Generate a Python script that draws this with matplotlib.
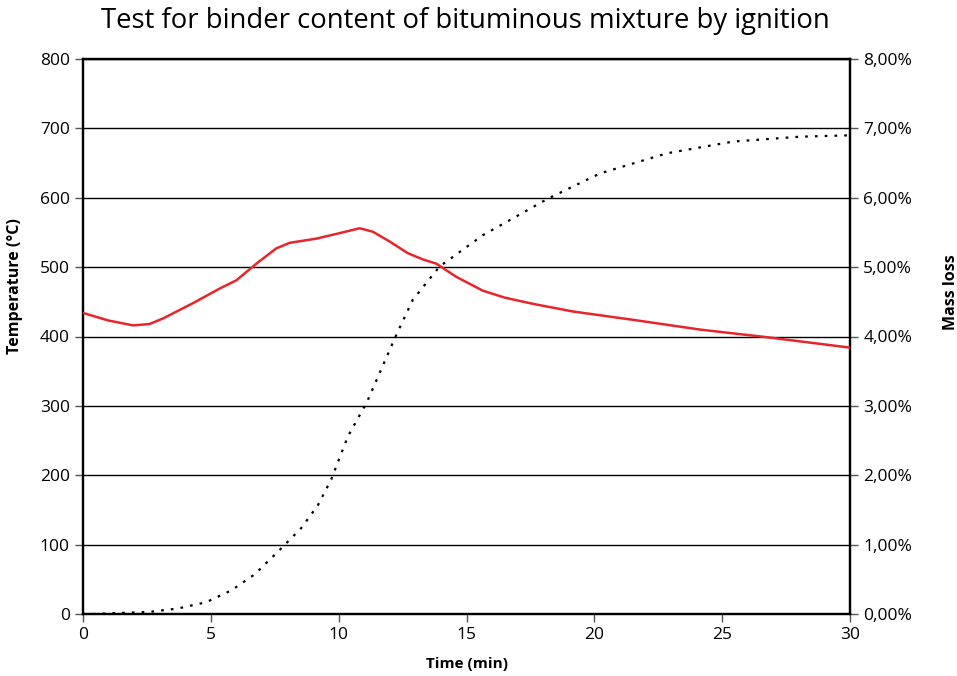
import matplotlib.pyplot as plt
from matplotlib.ticker import FuncFormatter

plt.rcParams['font.family'] = ['Open Sans', 'DejaVu Sans']

# temperature curve (deg C)
temp_time = [0, 1.0, 1.96, 2.6, 3.13, 4.3, 5.34, 6.0, 6.78, 7.56, 8.08, 9.12, 10.04,
             10.82, 11.34, 11.99, 12.71, 13.3, 13.82, 14.6, 15.64, 16.5, 17.61, 19.17,
             21.52, 24.13, 26.74, 30]
temperature = [434, 423, 416, 418, 426, 448, 469, 481, 505, 527, 535, 541, 549,
               556, 551, 537, 520, 511, 505, 486, 466, 456, 447, 436,
               424, 410, 399, 384]

# mass loss curve (%)
mass_time = [0, 0.39, 2.6, 3.72, 4.82, 5.8, 6.71, 7.82, 8.54, 9.19, 9.71, 10.36,
             11.1, 12.25, 12.9, 13.95, 15.64, 18.2, 20.22, 22.83, 25.43, 28.04, 30]
mass_loss = [0.0, 0.0, 0.03, 0.08, 0.17, 0.34, 0.57, 0.97, 1.24, 1.57, 1.94, 2.56,
             3.05, 4.02, 4.53, 5.01, 5.46, 5.99, 6.35, 6.64, 6.81, 6.88, 6.90]

fig = plt.figure(figsize=(9.57, 6.76), dpi=100)
ax = fig.add_axes([83 / 957, 62 / 676, 767 / 957, 555 / 676])
ax2 = ax.twinx()

ax.set_xlim(0, 30)
ax.set_ylim(0, 800)
ax2.set_ylim(0, 8)

ax.set_yticks(range(0, 801, 100))
ax.set_xticks(range(0, 31, 5))
ax2.set_yticks(range(0, 9))
ax2.yaxis.set_major_formatter(FuncFormatter(lambda v, p: f'{v:.2f}%'.replace('.', ',')))

ax.grid(axis='y', color='black', linewidth=1.0)
ax.set_axisbelow(True)

ax2.plot(mass_time, mass_loss, color='black', linewidth=1.6, linestyle=(0, (1.2, 3.2)))
ax.plot(temp_time, temperature, color='#e8252b', linewidth=1.8, zorder=3)
ax.set_zorder(ax2.get_zorder() + 1)
ax.patch.set_visible(False)

for a in (ax, ax2):
    for s in a.spines.values():
        s.set_linewidth(1.6)
        s.set_color('black')
    a.tick_params(labelsize=12.5, length=6, width=1.0, color='#555555')

ax.set_xlabel('Time (min)', fontsize=11, fontweight='bold')
ax.set_ylabel('Temperature (°C)', fontsize=11.5, fontweight='bold')
ax2.set_ylabel('Mass loss', fontsize=11.5, fontweight='bold')
ax.xaxis.set_label_coords(0.5, -0.077)
ax.yaxis.set_label_coords(-0.078, 0.59)
ax2.yaxis.set_label_coords(1.121, 0.58)
fig.text(465 / 957, 1 - 21 / 676, 'Test for binder content of bituminous mixture by ignition',
         fontsize=19.8, ha='center', va='center')

fig.savefig('out.png', dpi=100)
